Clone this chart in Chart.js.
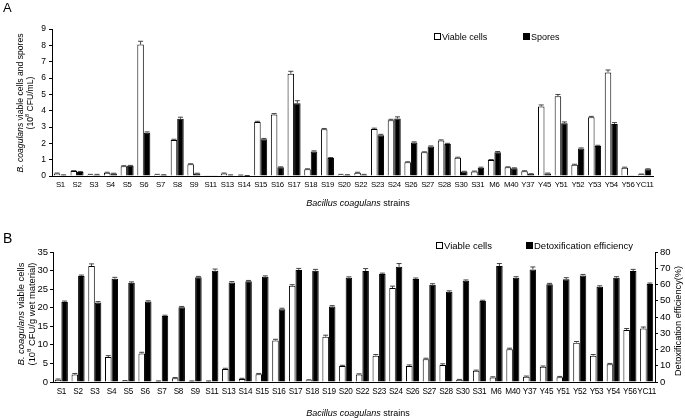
<!DOCTYPE html>
<html><head><meta charset="utf-8">
<script src="https://cdn.jsdelivr.net/npm/chart.js@4.4.1/dist/chart.umd.min.js"></script>
<style>
body{margin:0;background:#fff;width:685px;height:420px;overflow:hidden;position:relative;font-family:"Liberation Sans",Arial,sans-serif;color:#000}
canvas{position:absolute;left:0}
.t{position:absolute;white-space:nowrap;line-height:1.15}
.c{transform:translate(-50%,-50%)}
.r{transform:translate(-50%,-50%) rotate(-90deg);text-align:center}
.sq{display:inline-block;width:5px;height:5px;border:1px solid #000;margin-right:1px;vertical-align:0px}
sup{font-size:65%;line-height:0;vertical-align:super}
.xl{position:absolute;white-space:nowrap;line-height:1;letter-spacing:-0.3px;transform:translate(-50%,-50%)}
</style></head>
<body>
<canvas id="ca" width="685" height="200" style="top:0;width:685px;height:200px"></canvas>
<canvas id="cb" width="685" height="220" style="top:200px;width:685px;height:220px"></canvas>

<div class="t" style="left:3px;top:1px;font-size:13px">A</div>
<div class="t" style="left:3px;top:230px;font-size:14px">B</div>

<div class="t r" style="left:26px;top:103px;font-size:8.6px"><i>B. coagulans</i> viable cells and spores<br>(10<sup>8</sup> CFU/mL)</div>
<div class="t c" style="left:358px;top:203px;font-size:9px"><i>Bacillus coagulans</i> strains</div>
<div class="t" style="left:434px;top:32px;font-size:9px"><span class="sq" style="background:#fff"></span>Viable cells</div>
<div class="t" style="left:523px;top:32px;font-size:9px"><span class="sq" style="background:#000"></span>Spores</div>

<div class="t r" style="left:27px;top:314px;font-size:9.4px"><i>B. coagulans</i> viable cells<br>(10<sup>8</sup> CFU/g wet material)</div>
<div class="t r" style="left:678px;top:321px;font-size:9.2px">Detoxification efficiency(%)</div>
<div class="t c" style="left:358px;top:413px;font-size:9px"><i>Bacillus coagulans</i> strains</div>
<div class="t" style="left:436px;top:241px;font-size:9.5px"><span class="sq" style="background:#fff"></span>Viable cells</div>
<div class="t" style="left:526px;top:241px;font-size:9.5px"><span class="sq" style="background:#000"></span>Detoxification efficiency</div>

<script>
const strains = ["S1","S2","S3","S4","S5","S6","S7","S8","S9","S11","S13","S14","S15","S16","S17","S18","S19","S20","S22","S23","S24","S26","S27","S28","S30","S31","M6","M40","Y37","Y45","Y51","Y52","Y53","Y54","Y56","YC11"];

// Panel A (10^8 CFU/mL)
const viableA = [0.15,0.3,0.08,0.2,0.6,8.05,0.08,2.2,0.72,0.02,0.15,0.05,3.3,3.76,6.26,0.41,2.86,0.08,0.2,2.88,3.42,0.84,1.45,2.17,1.12,0.27,0.98,0.53,0.29,4.25,4.89,0.69,3.6,6.34,0.51,0.1];
const viableAErr = [0.03,0.03,0.02,0.03,0.03,0.2,0.02,0.05,0.03,0,0.03,0.01,0.05,0.06,0.15,0.03,0.05,0.02,0.03,0.05,0.05,0.03,0.03,0.04,0.03,0.03,0.03,0.03,0.03,0.1,0.1,0.03,0.05,0.15,0.03,0.02];
const sporesA = [0.05,0.25,0.08,0.15,0.62,2.65,0.06,3.5,0.15,0.02,0.05,0.02,2.25,0.53,4.46,1.5,1.1,0.06,0.08,2.5,3.52,2.05,1.8,1.96,0.27,0.51,1.45,0.47,0.12,0.16,3.23,1.68,1.84,3.19,0.01,0.41];
const sporesAErr = [0.02,0.03,0.02,0.02,0.03,0.05,0.02,0.1,0.02,0,0.02,0.01,0.05,0.03,0.15,0.04,0.03,0.02,0.02,0.05,0.1,0.04,0.04,0.04,0.02,0.03,0.05,0.03,0.02,0.02,0.08,0.04,0.04,0.08,0,0.03];
const ticksA = [0,1,2,3,4,5,6,7,8,9];

// Panel B
const viableB = [0.6,2.0,31.2,6.7,0.3,7.7,0.2,1.0,0.2,0.2,3.5,0.8,2.1,11.2,25.9,0.5,12.2,4.3,2.0,7.1,25.3,4.3,6.1,4.6,0.6,3.0,1.2,8.8,1.4,4.1,1.3,10.6,7.1,4.8,14.0,14.4];
const viableBErr = [0.2,0.3,0.6,0.4,0.1,0.3,0.1,0.2,0.1,0.1,0.2,0.2,0.2,0.3,0.3,0.1,0.4,0.2,0.2,0.3,0.5,0.3,0.3,0.3,0.1,0.2,0.2,0.3,0.2,0.2,0.2,0.3,0.3,0.2,0.4,0.4];
const detoxB = [49.3,65.2,48.9,63.6,61.1,49.5,40.6,46.0,64.4,68.5,61.3,62.0,64.8,44.8,68.9,68.5,46.4,64.2,68.3,66.4,70.9,63.4,59.9,55.5,62.3,49.8,71.4,64.2,69.3,60.1,63.2,65.6,58.6,64.2,68.3,60.3];
const detoxBErr = [0.5,0.6,0.6,0.8,0.5,0.5,0.5,0.5,0.6,1.0,0.5,0.5,0.5,0.6,1.0,0.8,0.6,0.5,1.5,0.6,2.0,0.6,0.6,0.6,0.5,0.5,1.5,0.6,1.5,0.6,1.0,0.6,0.6,0.6,1.0,0.6];
const ticksBLeft = [0,5,10,15,20,25,30,35];
const ticksBRight = [0,10,20,30,40,50,60,70,80];

const FONT = '"Liberation Sans", Arial, sans-serif';

const errPlugin = {
  id: 'errbars',
  afterDatasetsDraw(chart) {
    const ctx = chart.ctx;
    chart.data.datasets.forEach((ds, di) => {
      const meta = chart.getDatasetMeta(di);
      const sc = chart.scales[meta.yAxisID];
      meta.data.forEach((el, i) => {
        const e = ds.errors[i];
        if (!e) return;
        const yT = sc.getPixelForValue(ds.data[i] + e);
        ctx.save();
        ctx.strokeStyle = '#444';
        ctx.lineWidth = 1;
        ctx.beginPath();
        ctx.moveTo(el.x, el.y);
        ctx.lineTo(el.x, yT);
        ctx.moveTo(el.x - 2.5, yT);
        ctx.lineTo(el.x + 2.5, yT);
        ctx.stroke();
        ctx.restore();
      });
    });
  }
};

// category labels as DOM text, centred on the x scale's own tick positions
function addCatLabels(chart, canvasTop, size, pad) {
  const sc = chart.scales.x;
  chart.data.labels.forEach((lab, i) => {
    const d = document.createElement('div');
    d.className = 'xl';
    d.textContent = lab;
    d.style.fontSize = size + 'px';
    d.style.left = sc.getPixelForTick(i) + 'px';
    d.style.top = (canvasTop + sc.top + pad) + 'px';
    document.body.appendChild(d);
  });
}

function yTicksFixed(list) {
  return function(scale) { scale.ticks = list.map(v => ({value: v})); };
}

const chartA = new Chart(document.getElementById('ca'), {
  type: 'bar',
  data: {
    labels: strains,
    datasets: [
      {label: 'Viable cells', data: viableA, errors: viableAErr, backgroundColor: '#fff', borderColor: '#000', borderWidth: 1, borderSkipped: 'bottom'},
      {label: 'Spores', data: sporesA, errors: sporesAErr, backgroundColor: '#000', borderColor: '#000', borderWidth: 1, borderSkipped: 'bottom'}
    ]
  },
  plugins: [errPlugin],
  options: {
    responsive: false, animation: false, devicePixelRatio: 1,
    layout: {autoPadding: false, padding: {left: 0, right: 32, top: 29, bottom: 0}},
    datasets: {bar: {categoryPercentage: 0.78, barPercentage: 1.0}},
    plugins: {legend: {display: false}, tooltip: {enabled: false}},
    scales: {
      x: {
        grid: {display: false}, border: {display: true, color: '#000', width: 1},
        ticks: {display: false},
        afterFit: s => { s.height = 24; }
      },
      y: {
        min: 0, max: 9,
        afterBuildTicks: yTicksFixed(ticksA),
        grid: {display: true, drawOnChartArea: false, drawTicks: true, tickLength: 3, color: '#000'},
        border: {display: true, color: '#000', width: 1},
        ticks: {padding: 3, color: '#000', font: {family: FONT, size: 8.5}},
        afterFit: s => { s.width = 52; }
      }
    }
  }
});

const chartB = new Chart(document.getElementById('cb'), {
  type: 'bar',
  data: {
    labels: strains,
    datasets: [
      {label: 'Viable cells', data: viableB, errors: viableBErr, yAxisID: 'y', backgroundColor: '#fff', borderColor: '#000', borderWidth: 1, borderSkipped: 'bottom'},
      {label: 'Detoxification efficiency', data: detoxB, errors: detoxBErr, yAxisID: 'y1', backgroundColor: '#000', borderColor: '#000', borderWidth: 1, borderSkipped: 'bottom'}
    ]
  },
  plugins: [errPlugin],
  options: {
    responsive: false, animation: false, devicePixelRatio: 1,
    layout: {autoPadding: false, padding: {left: 0, right: 0, top: 52, bottom: 0}},
    datasets: {bar: {categoryPercentage: 0.78, barPercentage: 1.0}},
    plugins: {legend: {display: false}, tooltip: {enabled: false}},
    scales: {
      x: {
        grid: {display: false}, border: {display: true, color: '#000', width: 1},
        ticks: {display: false},
        afterFit: s => { s.height = 38; }
      },
      y: {
        position: 'left', min: 0, max: 35,
        afterBuildTicks: yTicksFixed(ticksBLeft),
        grid: {display: true, drawOnChartArea: false, drawTicks: true, tickLength: 3, color: '#000'},
        border: {display: true, color: '#000', width: 1},
        ticks: {padding: 2, color: '#000', font: {family: FONT, size: 9.5}},
        afterFit: s => { s.width = 53; }
      },
      y1: {
        position: 'right', min: 0, max: 80,
        afterBuildTicks: yTicksFixed(ticksBRight),
        grid: {display: true, drawOnChartArea: false, drawTicks: true, tickLength: 3, color: '#000'},
        border: {display: true, color: '#000', width: 1},
        ticks: {padding: 2, color: '#000', font: {family: FONT, size: 9.5}},
        afterFit: s => { s.width = 30; }
      }
    }
  }
});

addCatLabels(chartA, 0, 7.8, 9);
addCatLabels(chartB, 200, 8.2, 10);
</script>
</body></html>
